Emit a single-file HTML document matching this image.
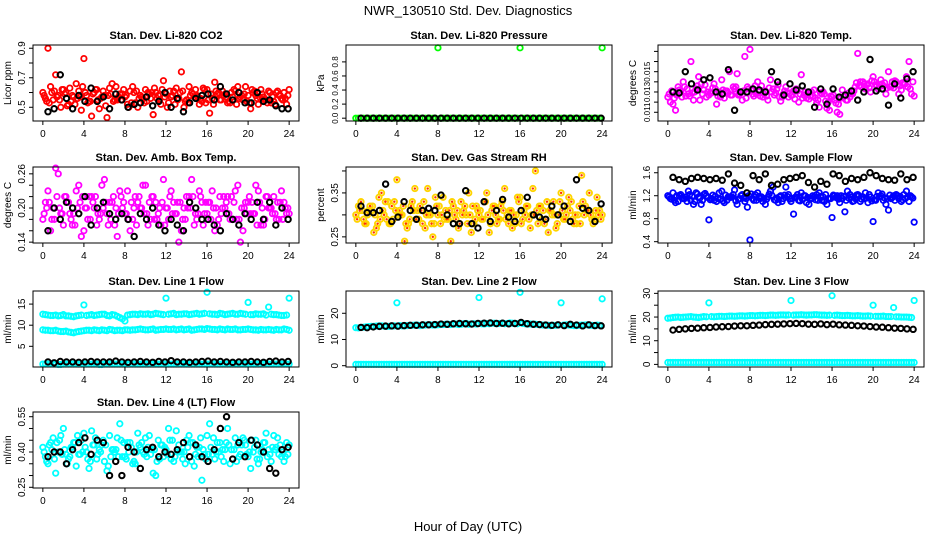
<!DOCTYPE html>
<html><head><meta charset="utf-8"><style>
body{margin:0;background:#fff}
svg{display:block;font-family:"Liberation Sans",sans-serif}
</style></head><body>
<svg id="c" width="936" height="540" viewBox="0 0 936 540">
<text x="468" y="15" text-anchor="middle" font-size="13">NWR_130510  Std. Dev. Diagnostics</text>
<text x="468" y="531" text-anchor="middle" font-size="13">Hour of Day (UTC)</text>
</svg>
<script>
const hoursA = Array.from({length:49},(_, i)=>i*0.5);
const hoursB = Array.from({length:48},(_, i)=>0.25+i*0.5);
const hoursC = Array.from({length:48},(_, i)=>0.125+i*0.5);
const hoursD = Array.from({length:48},(_, i)=>0.375+i*0.5);
const hoursK = Array.from({length:40},(_, i)=>0.5+i*0.6);
const xTicks = [0,4,8,12,16,20,24];

const co2A=[0.60,0.90,0.55,0.58,0.62,0.52,0.57,0.61,0.83,0.54,0.60,0.49,0.58,0.63,0.55,0.59,0.57,0.61,0.53,0.58,0.62,0.56,0.60,0.52,0.59,0.57,0.63,0.74,0.55,0.60,0.58,0.54,0.62,0.56,0.59,0.61,0.53,0.57,0.64,0.55,0.58,0.60,0.52,0.57,0.61,0.54,0.58,0.60,0.62];
const co2B=[0.56,0.64,0.72,0.50,0.60,0.54,0.66,0.48,0.58,0.44,0.62,0.57,0.43,0.66,0.55,0.59,0.52,0.64,0.50,0.56,0.60,0.45,0.58,0.68,0.53,0.61,0.56,0.50,0.64,0.57,0.52,0.62,0.46,0.67,0.55,0.59,0.53,0.61,0.57,0.64,0.49,0.58,0.62,0.55,0.53,0.60,0.56,0.52];
const co2C=[0.58,0.53,0.61,0.55,0.59,0.63,0.52,0.57,0.60,0.54,0.62,0.56,0.51,0.59,0.64,0.55,0.58,0.53,0.61,0.57,0.54,0.60,0.56,0.62,0.50,0.58,0.55,0.61,0.53,0.59,0.57,0.63,0.55,0.52,0.60,0.58,0.54,0.62,0.56,0.59,0.53,0.61,0.57,0.55,0.60,0.52,0.58,0.56];
const co2D=[0.54,0.60,0.57,0.62,0.51,0.58,0.56,0.64,0.53,0.59,0.55,0.61,0.58,0.54,0.57,0.62,0.50,0.60,0.56,0.53,0.59,0.63,0.55,0.57,0.61,0.52,0.60,0.54,0.58,0.62,0.56,0.53,0.59,0.61,0.55,0.57,0.60,0.52,0.58,0.54,0.62,0.56,0.59,0.53,0.57,0.61,0.55,0.58];
const co2K=[0.47,0.49,0.72,0.56,0.49,0.58,0.54,0.63,0.54,0.57,0.49,0.59,0.55,0.50,0.52,0.53,0.57,0.51,0.54,0.60,0.50,0.56,0.47,0.53,0.56,0.58,0.59,0.55,0.64,0.59,0.55,0.60,0.53,0.53,0.60,0.54,0.55,0.51,0.49,0.49];

const presA=[0,0,0,0,0,0,0,0,0,0,0,0,0,0,0,0,1.0,0,0,0,0,0,0,0,0,0,0,0,0,0,0,0,1.0,0,0,0,0,0,0,0,0,0,0,0,0,0,0,0,1.0];
const presB=[0,0,0,0,0,0,0,0,0,0,0,0,0,0,0,0,0,0,0,0,0,0,0,0,0,0,0,0,0,0,0,0,0,0,0,0,0,0,0,0,0,0,0,0,0,0,0,0];
const presK=[0,0,0,0,0,0,0,0,0,0,0,0,0,0,0,0,0,0,0,0,0,0,0,0,0,0,0,0,0,0,0,0,0,0,0,0,0,0,0,0];

const ltA=[0.0125,0.0118,0.0135,0.0140,0.0128,0.0122,0.0145,0.0132,0.0127,0.0138,0.0130,0.0124,0.0150,0.0133,0.0128,0.0165,0.0172,0.0136,0.0126,0.0131,0.0142,0.0129,0.0121,0.0135,0.0127,0.0133,0.0147,0.0124,0.0130,0.0119,0.0128,0.0114,0.0125,0.0110,0.0132,0.0122,0.0128,0.0168,0.0140,0.0138,0.0145,0.0133,0.0136,0.0150,0.0134,0.0128,0.0138,0.0160,0.0126];
const ltB=[0.0120,0.0112,0.0130,0.0126,0.0160,0.0133,0.0138,0.0125,0.0129,0.0118,0.0142,0.0131,0.0127,0.0148,0.0122,0.0135,0.0128,0.0140,0.0125,0.0122,0.0133,0.0137,0.0128,0.0125,0.0131,0.0120,0.0127,0.0123,0.0132,0.0115,0.0128,0.0112,0.0122,0.0108,0.0127,0.0125,0.0135,0.0140,0.0133,0.0130,0.0137,0.0142,0.0128,0.0135,0.0140,0.0132,0.0145,0.0128];
const ltC=[0.0128,0.0124,0.0132,0.0135,0.0126,0.0130,0.0122,0.0137,0.0129,0.0133,0.0125,0.0131,0.0127,0.0135,0.0130,0.0124,0.0132,0.0128,0.0136,0.0126,0.0130,0.0133,0.0125,0.0129,0.0127,0.0131,0.0124,0.0128,0.0126,0.0122,0.0130,0.0120,0.0127,0.0118,0.0125,0.0129,0.0131,0.0136,0.0138,0.0134,0.0140,0.0137,0.0139,0.0135,0.0141,0.0136,0.0138,0.0133];
const ltD=[0.0131,0.0127,0.0125,0.0133,0.0129,0.0136,0.0128,0.0130,0.0134,0.0126,0.0132,0.0129,0.0135,0.0127,0.0131,0.0133,0.0126,0.0130,0.0128,0.0134,0.0127,0.0125,0.0131,0.0129,0.0123,0.0128,0.0130,0.0126,0.0124,0.0129,0.0121,0.0126,0.0119,0.0124,0.0122,0.0128,0.0139,0.0135,0.0137,0.0141,0.0136,0.0138,0.0134,0.0140,0.0137,0.0139,0.0135,0.0140];
const ltK=[0.0130,0.0129,0.0150,0.0138,0.0132,0.0142,0.0144,0.0130,0.0128,0.0152,0.0112,0.0130,0.0130,0.0133,0.0132,0.0130,0.0150,0.0140,0.0127,0.0138,0.0132,0.0136,0.0130,0.0115,0.0133,0.0118,0.0133,0.0125,0.0127,0.0131,0.0122,0.0130,0.0162,0.0131,0.0133,0.0117,0.0138,0.0124,0.0143,0.0150];

const abA=[0.18,0.23,0.20,0.26,0.17,0.21,0.19,0.24,0.16,0.22,0.20,0.18,0.25,0.21,0.17,0.23,0.19,0.16,0.22,0.20,0.24,0.18,0.21,0.17,0.20,0.23,0.19,0.16,0.22,0.25,0.18,0.21,0.19,0.23,0.17,0.20,0.22,0.18,0.24,0.16,0.21,0.19,0.23,0.17,0.20,0.22,0.18,0.21,0.19];
const abB=[0.21,0.16,0.27,0.19,0.22,0.18,0.23,0.15,0.20,0.22,0.17,0.24,0.19,0.21,0.15,0.20,0.23,0.18,0.21,0.24,0.17,0.22,0.19,0.25,0.18,0.21,0.14,0.20,0.22,0.17,0.23,0.19,0.21,0.16,0.22,0.20,0.18,0.23,0.14,0.21,0.19,0.24,0.17,0.22,0.20,0.18,0.23,0.19];
const abC=[0.19,0.21,0.18,0.20,0.22,0.19,0.17,0.21,0.20,0.18,0.22,0.19,0.21,0.18,0.20,0.22,0.19,0.21,0.17,0.20,0.19,0.22,0.18,0.21,0.20,0.19,0.21,0.18,0.20,0.22,0.19,0.17,0.21,0.20,0.18,0.22,0.19,0.21,0.18,0.20,0.22,0.19,0.21,0.18,0.20,0.19,0.21,0.20];
const abD=[0.20,0.18,0.22,0.19,0.21,0.17,0.20,0.22,0.18,0.21,0.19,0.20,0.17,0.22,0.19,0.21,0.18,0.20,0.22,0.19,0.21,0.18,0.20,0.17,0.22,0.19,0.21,0.18,0.20,0.19,0.22,0.21,0.18,0.20,0.19,0.21,0.22,0.18,0.20,0.19,0.21,0.17,0.20,0.22,0.19,0.21,0.18,0.20];
const abK=[0.16,0.20,0.18,0.21,0.20,0.19,0.22,0.17,0.20,0.21,0.19,0.18,0.19,0.18,0.15,0.19,0.18,0.20,0.17,0.16,0.18,0.17,0.16,0.21,0.20,0.18,0.18,0.17,0.16,0.19,0.18,0.17,0.19,0.18,0.21,0.18,0.21,0.17,0.20,0.18];

const rhA=[0.30,0.33,0.28,0.31,0.27,0.35,0.29,0.32,0.38,0.30,0.27,0.33,0.31,0.28,0.36,0.25,0.30,0.34,0.29,0.32,0.27,0.31,0.35,0.28,0.30,0.33,0.26,0.32,0.29,0.36,0.31,0.28,0.34,0.30,0.27,0.40,0.32,0.29,0.31,0.27,0.35,0.30,0.33,0.28,0.39,0.31,0.29,0.34,0.30];
const rhB=[0.32,0.29,0.31,0.26,0.34,0.30,0.28,0.33,0.31,0.24,0.29,0.36,0.32,0.27,0.30,0.34,0.28,0.31,0.24,0.29,0.33,0.30,0.26,0.32,0.29,0.35,0.31,0.28,0.33,0.30,0.27,0.34,0.29,0.32,0.36,0.28,0.31,0.26,0.33,0.30,0.29,0.34,0.28,0.32,0.30,0.35,0.29,0.31];
const rhC=[0.29,0.31,0.30,0.32,0.28,0.31,0.33,0.29,0.30,0.32,0.28,0.31,0.29,0.33,0.30,0.28,0.32,0.29,0.31,0.30,0.28,0.32,0.30,0.29,0.31,0.33,0.28,0.30,0.32,0.29,0.31,0.30,0.28,0.32,0.30,0.31,0.29,0.33,0.30,0.28,0.31,0.32,0.29,0.30,0.33,0.31,0.28,0.30];
const rhD=[0.31,0.28,0.32,0.30,0.29,0.33,0.28,0.31,0.30,0.28,0.32,0.29,0.31,0.30,0.28,0.32,0.30,0.29,0.33,0.31,0.30,0.28,0.32,0.31,0.29,0.30,0.32,0.29,0.31,0.28,0.30,0.33,0.31,0.29,0.30,0.32,0.28,0.31,0.30,0.33,0.29,0.31,0.30,0.28,0.32,0.30,0.31,0.29];
const rhK=[0.32,0.305,0.305,0.31,0.37,0.285,0.295,0.33,0.31,0.29,0.31,0.315,0.31,0.345,0.30,0.28,0.28,0.355,0.28,0.27,0.33,0.285,0.31,0.335,0.295,0.285,0.31,0.34,0.30,0.295,0.29,0.32,0.30,0.32,0.285,0.38,0.315,0.31,0.285,0.325];

const sfA=[1.20,1.25,1.10,1.15,1.28,1.05,1.18,1.22,0.78,1.12,1.25,1.08,1.18,1.30,1.15,1.10,0.43,1.22,1.15,1.05,1.28,1.12,1.20,1.35,1.10,1.18,1.25,1.08,1.15,1.22,1.12,1.05,0.82,1.20,1.15,1.28,1.10,1.22,1.18,1.08,0.75,1.25,1.12,0.95,1.20,1.15,1.22,1.10,0.74];
const sfB=[1.15,1.08,1.22,1.18,1.12,1.25,1.05,1.20,1.15,1.10,1.28,1.12,1.18,1.05,1.22,1.00,1.15,1.25,1.10,1.18,1.35,1.08,1.15,1.22,0.88,1.12,1.20,1.05,1.18,1.25,1.10,1.15,1.20,1.08,0.92,1.22,1.15,1.10,1.25,1.18,1.12,1.20,1.05,1.15,1.22,1.10,1.28,1.18];
const sfC=[1.18,1.12,1.20,1.15,1.22,1.10,1.16,1.24,1.13,1.19,1.14,1.21,1.17,1.11,1.20,1.15,1.23,1.12,1.18,1.14,1.21,1.16,1.10,1.19,1.15,1.22,1.13,1.17,1.20,1.12,1.18,1.15,1.21,1.14,1.19,1.16,1.11,1.20,1.15,1.22,1.13,1.18,1.16,1.21,1.12,1.19,1.15,1.20];
const sfD=[1.14,1.20,1.16,1.10,1.19,1.23,1.12,1.17,1.21,1.15,1.11,1.18,1.22,1.14,1.16,1.20,1.12,1.19,1.15,1.23,1.13,1.18,1.21,1.14,1.17,1.11,1.20,1.16,1.13,1.19,1.22,1.15,1.17,1.20,1.12,1.18,1.21,1.14,1.16,1.11,1.19,1.23,1.15,1.17,1.20,1.13,1.18,1.16];
const sfK=[1.52,1.48,1.45,1.50,1.52,1.50,1.48,1.50,1.47,1.58,1.42,1.38,1.25,1.55,1.48,1.58,1.38,1.40,1.48,1.50,1.52,1.55,1.43,1.35,1.45,1.40,1.58,1.55,1.45,1.50,1.48,1.52,1.60,1.55,1.50,1.48,1.47,1.58,1.48,1.52];

const l1Up=[12.6,12.4,12.3,12.2,12.5,12.2,12.0,12.3,14.8,12.4,12.3,12.5,12.6,12.2,12.4,11.8,11.0,12.5,12.6,12.7,12.6,12.5,12.8,12.6,16.4,12.7,12.5,12.6,12.7,12.6,12.8,12.7,17.8,12.6,12.5,12.7,12.6,12.8,12.6,12.7,15.4,12.5,12.6,12.7,14.3,12.5,12.4,12.3,16.4];
const l1UpB=[12.5,12.3,12.4,12.3,12.2,12.1,12.2,12.4,12.3,12.5,12.4,12.6,12.3,12.5,12.1,11.5,12.4,12.6,12.5,12.6,12.7,12.6,12.7,12.5,12.6,12.8,12.6,12.7,12.5,12.7,12.6,12.8,12.7,12.6,12.8,12.5,12.7,12.6,12.8,12.6,12.5,12.7,12.6,12.4,12.6,12.5,12.3,12.4];
const l1Mid=[8.9,8.8,8.7,8.6,8.5,8.4,8.2,8.5,8.7,8.8,8.9,8.7,8.8,9.0,8.7,8.8,8.9,8.8,8.9,9.1,8.9,9.0,8.8,9.0,9.1,9.0,8.9,9.1,9.0,8.8,9.0,9.1,9.2,9.0,8.9,9.0,9.1,9.0,8.9,9.0,9.1,8.9,8.8,8.9,9.0,8.8,8.9,9.1,8.8];
const l1MidB=[8.8,8.7,8.8,8.5,8.6,8.3,8.4,8.6,8.8,8.7,8.8,8.9,8.7,8.9,8.8,8.7,8.9,8.9,9.0,9.0,8.9,9.1,8.9,9.0,9.0,9.1,9.0,8.9,9.1,8.9,9.1,9.0,9.1,9.0,9.1,8.9,9.0,9.1,8.9,9.0,9.0,8.9,9.0,8.9,8.9,9.0,8.9,9.0];
const l1Low=[0.8,0.8,0.8,0.7,0.8,0.8,0.8,0.8,0.8,0.8,0.8,0.7,0.8,0.8,0.8,0.8,0.8,0.8,0.8,0.8,0.8,0.8,0.8,0.8,0.8,0.8,0.8,0.8,0.8,0.8,0.8,0.8,0.8,0.8,0.8,0.8,0.8,0.8,0.8,0.8,0.8,0.8,0.8,0.8,0.8,0.8,0.8,0.8,0.8];
const l1K=[1.3,1.1,1.4,1.3,1.3,1.2,1.3,1.4,1.3,1.3,1.3,1.5,1.3,1.2,1.3,1.4,1.3,1.2,1.4,1.3,1.6,1.3,1.3,1.2,1.3,1.4,1.5,1.3,1.4,1.3,1.2,1.3,1.3,1.4,1.3,1.2,1.4,1.5,1.3,1.4];

const l2Up=[14.5,14.6,14.8,15.0,15.1,15.2,15.0,15.1,24.0,15.2,15.3,15.4,15.5,15.4,15.6,15.5,15.6,15.7,15.8,15.9,15.7,16.0,15.8,16.0,26.0,15.9,16.0,16.2,16.1,16.0,16.3,16.1,28.0,16.0,15.9,15.8,15.6,15.5,15.3,15.4,24.0,15.6,15.4,15.3,15.5,15.6,15.4,15.5,25.5];
const l2UpB=[14.4,14.7,14.9,15.0,15.2,15.1,15.0,15.2,15.3,15.2,15.4,15.5,15.3,15.5,15.6,15.5,15.7,15.8,15.7,15.9,15.8,16.1,15.9,15.9,16.0,16.1,16.2,16.0,16.2,16.1,16.2,16.0,16.1,15.9,15.8,15.7,15.5,15.4,15.4,15.5,15.5,15.5,15.3,15.4,15.5,15.4,15.3,15.4];
const l2Low=[0.5,0.5,0.5,0.5,0.5,0.5,0.5,0.5,0.5,0.5,0.5,0.5,0.5,0.5,0.5,0.5,0.5,0.5,0.5,0.5,0.5,0.5,0.5,0.5,0.5,0.5,0.5,0.5,0.5,0.5,0.5,0.5,0.5,0.5,0.5,0.5,0.5,0.5,0.5,0.5,0.5,0.5,0.5,0.5,0.5,0.5,0.5,0.5,0.5];
const l2K=[14.6,14.5,14.8,15.0,15.1,15.2,15.1,15.3,15.4,15.4,15.6,15.6,15.7,15.9,15.8,16.0,16.1,16.0,15.9,16.1,16.2,16.3,16.1,16.2,16.0,16.1,16.5,16.0,15.8,15.7,15.5,15.4,15.6,15.3,15.8,15.5,15.2,15.6,15.3,15.2];

const l3Up=[19.5,19.8,20.0,19.9,20.1,20.0,19.8,20.2,26.0,20.1,20.3,20.2,20.4,20.3,20.5,20.4,20.6,20.5,20.7,20.6,20.8,20.7,20.9,20.8,27.0,20.9,21.0,20.8,20.9,21.0,20.8,20.7,29.0,20.8,20.6,20.7,20.5,20.6,20.4,20.5,25.0,20.3,20.4,20.2,24.0,20.1,20.0,19.9,27.0];
const l3UpB=[19.6,19.9,19.8,20.0,20.2,19.9,20.0,20.1,20.2,20.2,20.3,20.3,20.4,20.4,20.5,20.5,20.6,20.6,20.7,20.7,20.8,20.8,20.9,20.9,20.8,20.9,20.9,20.9,21.0,20.9,20.8,20.8,20.7,20.7,20.6,20.6,20.5,20.5,20.4,20.4,20.3,20.3,20.2,20.2,20.1,20.0,20.0,19.8];
const l3Low=[0.8,0.8,0.8,0.8,0.8,0.8,0.8,0.8,0.8,0.8,0.8,0.8,0.8,0.8,0.8,0.8,0.8,0.8,0.8,0.8,0.8,0.8,0.8,0.8,0.8,0.8,0.8,0.8,0.8,0.8,0.8,0.8,0.8,0.8,0.8,0.8,0.8,0.8,0.8,0.8,0.8,0.8,0.8,0.8,0.8,0.8,0.8,0.8,0.8];
const l3K=[14.5,14.8,15.0,15.2,15.3,15.5,15.6,15.8,15.9,16.0,16.2,16.3,16.3,16.5,16.6,16.8,16.9,17.0,17.1,17.2,17.3,17.2,17.0,16.9,17.1,16.8,17.0,16.7,16.6,16.5,16.3,16.2,16.0,15.8,15.7,15.5,15.3,15.2,15.0,14.8];

const l4A=[0.42,0.35,0.46,0.40,0.50,0.37,0.44,0.39,0.48,0.33,0.43,0.41,0.36,0.47,0.40,0.52,0.38,0.44,0.35,0.42,0.46,0.39,0.30,0.43,0.41,0.37,0.49,0.40,0.45,0.36,0.42,0.28,0.47,0.39,0.44,0.41,0.50,0.37,0.43,0.46,0.38,0.40,0.35,0.44,0.41,0.47,0.39,0.36,0.43];
const l4B=[0.38,0.44,0.31,0.47,0.39,0.42,0.34,0.45,0.40,0.49,0.37,0.43,0.32,0.41,0.46,0.38,0.44,0.35,0.48,0.40,0.42,0.31,0.45,0.38,0.50,0.36,0.43,0.40,0.47,0.34,0.42,0.39,0.52,0.37,0.44,0.41,0.35,0.46,0.39,0.43,0.33,0.45,0.40,0.48,0.36,0.42,0.38,0.44];
const l4C=[0.40,0.43,0.37,0.45,0.41,0.38,0.44,0.39,0.42,0.36,0.46,0.40,0.43,0.38,0.41,0.45,0.37,0.42,0.40,0.44,0.38,0.41,0.36,0.43,0.39,0.45,0.40,0.37,0.42,0.44,0.38,0.41,0.39,0.46,0.40,0.36,0.43,0.41,0.38,0.45,0.40,0.42,0.37,0.44,0.39,0.41,0.43,0.38];
const l4D=[0.36,0.41,0.44,0.39,0.35,0.42,0.47,0.40,0.37,0.43,0.39,0.45,0.34,0.41,0.38,0.44,0.40,0.36,0.43,0.39,0.47,0.41,0.37,0.42,0.45,0.38,0.40,0.35,0.44,0.39,0.46,0.37,0.42,0.40,0.38,0.44,0.41,0.36,0.43,0.39,0.45,0.37,0.41,0.38,0.42,0.46,0.40,0.39];
const l4K=[0.38,0.40,0.40,0.35,0.41,0.44,0.46,0.39,0.45,0.44,0.30,0.36,0.30,0.42,0.40,0.33,0.41,0.42,0.38,0.40,0.39,0.41,0.44,0.38,0.43,0.38,0.36,0.41,0.50,0.55,0.37,0.44,0.38,0.45,0.43,0.40,0.33,0.31,0.41,0.42];

const NS="http://www.w3.org/2000/svg";
const svg=document.getElementById('c');
function mk(tag,attrs,parent){const e=document.createElementNS(NS,tag);for(const k in attrs)e.setAttribute(k,attrs[k]);(parent||svg).appendChild(e);return e;}

const R='#ff0000',M='#ff00ff',B='#0000ff',C='#00ffff',K='#000';
const panels=[
 {name:'co2',title:'Stan. Dev. Li-820 CO2',ylab:'Licor ppm',col:0,row:0,ymin:0.407,ymax:0.922,ticks:[0.5,0.6,0.7,0.8,0.9],labels:['0.5','','0.7','','0.9'],fs:10,series:[[hoursA,co2A,R],[hoursB,co2B,R],[hoursC,co2C,R],[hoursD,co2D,R],[hoursK,co2K,K]]},
 {name:'pressure',title:'Stan. Dev. Li-820 Pressure',ylab:'kPa',col:1,row:0,ymin:-0.04,ymax:1.04,ticks:[0,0.2,0.4,0.6,0.8],labels:['0.0','0.2','0.4','0.6','0.8'],fs:8,series:[[hoursA,presA,'#00ff00'],[hoursB,presB,'#00ff00'],[hoursK,presK,K]]},
 {name:'li820-temp',title:'Stan. Dev. Li-820 Temp.',ylab:'degrees C',col:2,row:0,ymin:0.01014,ymax:0.01763,ticks:[0.011,0.012,0.013,0.014,0.015,0.016,0.017],labels:['0.011','','0.013','','0.015','',''],fs:8,series:[[hoursA,ltA,M],[hoursB,ltB,M],[hoursC,ltC,M],[hoursD,ltD,M],[hoursK,ltK,K]]},
 {name:'amb-box-temp',title:'Stan. Dev. Amb. Box Temp.',ylab:'degrees C',col:0,row:1,ymin:0.1385,ymax:0.272,ticks:[0.14,0.16,0.18,0.20,0.22,0.24,0.26],labels:['0.14','','','0.20','','','0.26'],fs:10,series:[[hoursA,abA,M],[hoursB,abB,M],[hoursC,abC,M],[hoursD,abD,M],[hoursK,abK,K]]},
 {name:'gas-rh',title:'Stan. Dev. Gas Stream RH',ylab:'percent',col:1,row:1,ymin:0.236,ymax:0.409,ticks:[0.25,0.30,0.35,0.40],labels:['0.25','','0.35',''],fs:10,series:[[hoursA,rhA,'rh'],[hoursB,rhB,'rh'],[hoursC,rhC,'rh'],[hoursD,rhD,'rh'],[hoursK,rhK,K]]},
 {name:'sample-flow',title:'Stan. Dev. Sample Flow',ylab:'ml/min',col:2,row:1,ymin:0.377,ymax:1.70,ticks:[0.4,0.8,1.2,1.6],labels:['0.4','0.8','1.2','1.6'],fs:10,series:[[hoursA,sfA,B],[hoursB,sfB,B],[hoursC,sfC,B],[hoursD,sfD,B],[hoursK,sfK,K]]},
 {name:'line1-flow',title:'Stan. Dev. Line 1 Flow',ylab:'ml/min',col:0,row:2,ymin:0.1,ymax:18.1,ticks:[5,10,15],labels:['5','10','15'],fs:10,series:[[hoursA,l1Up,C],[hoursA,l1Mid,C],[hoursA,l1Low,C],[hoursB,l1UpB,C],[hoursB,l1MidB,C],[hoursB,l1Low,C],[hoursK,l1K,K]]},
 {name:'line2-flow',title:'Stan. Dev. Line 2 Flow',ylab:'ml/min',col:1,row:2,ymin:-0.5,ymax:28.5,ticks:[0,10,20],labels:['0','10','20'],fs:10,series:[[hoursA,l2Up,C],[hoursB,l2UpB,C],[hoursA,l2Low,C],[hoursB,l2Low,C],[hoursK,l2K,K]]},
 {name:'line3-flow',title:'Stan. Dev. Line 3 Flow',ylab:'ml/min',col:2,row:2,ymin:-1.1,ymax:31,ticks:[0,5,10,15,20,25,30],labels:['0','','10','','20','','30'],fs:10,series:[[hoursA,l3Up,C],[hoursB,l3UpB,C],[hoursA,l3Low,C],[hoursB,l3Low,C],[hoursK,l3K,K]]},
 {name:'line4-flow',title:'Stan. Dev. Line 4 (LT) Flow',ylab:'ml/min',col:0,row:3,ymin:0.247,ymax:0.57,ticks:[0.25,0.30,0.35,0.40,0.45,0.50,0.55],labels:['0.25','','','0.40','','','0.55'],fs:10,series:[[hoursA,l4A,C],[hoursB,l4B,C],[hoursC,l4C,C],[hoursD,l4D,C],[hoursK,l4K,K]]}
];

const colX=[33,346,658], rowY=[45,167,291,412], W=266, H=76;
panels.forEach(p=>{
 const L=colX[p.col], T=rowY[p.row];
 const g=mk('g',{});
 
 
 const xs=v=>L+(v+0.96)/25.92*W;
 const ys=v=>T+H-(v-p.ymin)/(p.ymax-p.ymin)*H;
 const t=mk('text',{x:L+W/2,y:T-6,'text-anchor':'middle','font-size':'11','font-weight':'bold'},g);
 t.textContent=p.title;
 
 
 const pg=mk('g',{},g);
 p.series.forEach(s=>{
  const [xx,yy,c]=s;
  yy.forEach((v,i)=>{
   if(i>=xx.length)return;
   const cx=xs(xx[i]), cy=ys(v);
   if(c==='rh'){
    const a=mk('circle',{cx:cx,cy:cy,r:2.7,fill:'none',stroke:'#ffd400','stroke-width':1.9},pg);
    
    
    mk('circle',{cx:cx,cy:cy,r:1.2,fill:'#ff3000'},pg);
   } else {
    const a=mk('circle',{cx:cx,cy:cy,r:2.7,fill:'none',stroke:c,'stroke-width':c===K?2:1.8},pg);
    
    
   }
  });
 });
 const box=mk('rect',{x:L,y:T,width:W,height:H,fill:'none',stroke:'#000','stroke-width':1},g);
 
 
 xTicks.forEach(v=>{
  const x=xs(v);
  mk('line',{x1:x,x2:x,y1:T+H,y2:T+H+4,stroke:'#000'},g);
  const tl=mk('text',{x:x,y:T+H+16,'text-anchor':'middle','font-size':'10'},g);
  tl.textContent=v;
  
  
 });
 mk('line',{x1:xs(0),x2:xs(24),y1:T+H,y2:T+H,stroke:'#000'},g);
 p.ticks.forEach((v,i)=>{
  const y=ys(v);
  mk('line',{x1:L-4,x2:L,y1:y,y2:y,stroke:'#000'},g);
  if(p.labels[i]){
   const tl=mk('text',{x:L-8,y:y,'text-anchor':'middle','font-size':p.fs,transform:`rotate(-90 ${L-8} ${y})`},g);
   tl.textContent=p.labels[i];
   
   
  }
 });
 const yl=mk('text',{x:L-22,y:T+H/2,'text-anchor':'middle','font-size':'10',transform:`rotate(-90 ${L-22} ${T+H/2})`},g);
 yl.textContent=p.ylab;
 
 
});
</script>
</body></html>
